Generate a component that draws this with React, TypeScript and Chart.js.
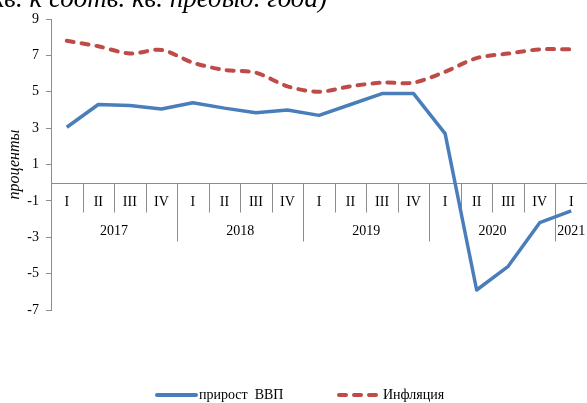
import React, { useEffect, useRef } from "react";
import { Chart, registerables } from "chart.js";

Chart.register(...registerables);

const quarterLabels = ["I", "II", "III", "IV", "I", "II", "III", "IV", "I", "II", "III", "IV", "I", "II", "III", "IV", "I"];
const yearLabels = ["2017", "2018", "2019", "2020", "2021"];
const quartersPerYear = [4, 4, 4, 4, 1];
const gdpGrowth = [3.05, 4.3, 4.25, 4.05, 4.4, 4.1, 3.85, 4.0, 3.7, 4.3, 4.9, 4.9, 2.7, -5.9, -4.6, -2.2, -1.55];
const inflation = [7.8, 7.5, 7.1, 7.3, 6.6, 6.2, 6.05, 5.3, 5.0, 5.3, 5.5, 5.5, 6.1, 6.85, 7.1, 7.33, 7.33];
const yMin = -7;
const yMax = 9;
const yStep = 2;
const seriesNames = ["прирост  ВВП", "Инфляция"];
const titleText = "кв. к соотв. кв. предыд. года)";
const yTitle = "проценты";

const FONT = '"Liberation Serif", "Times New Roman", serif';
const BLUE = "#4A7EBB";
const RED = "#BE4B48";
const GRAY = "#8C8C8C";

const customPlugin = {
  id: "customDecor",
  beforeDatasetsDraw(chart: any) {
    const { ctx, chartArea, scales } = chart;
    const y = scales.y;
    const left = chartArea.left;
    const right = chartArea.right;
    const n = quarterLabels.length;
    const w = (right - left) / n;
    const y0 = Math.round(y.getPixelForValue(0)) + 0.5;
    ctx.save();
    ctx.strokeStyle = GRAY;
    ctx.lineWidth = 1;
    ctx.beginPath();
    ctx.moveTo(left, y0);
    ctx.lineTo(right, y0);
    ctx.stroke();
    const yearBounds = new Set<number>();
    let acc = 0;
    quartersPerYear.forEach((c) => {
      acc += c;
      yearBounds.add(acc);
    });
    for (let i = 1; i < n; i++) {
      const xb = Math.round(left + i * w) + 0.5;
      const len = yearBounds.has(i) ? 58 : 29;
      ctx.beginPath();
      ctx.moveTo(xb, y0);
      ctx.lineTo(xb, y0 + len);
      ctx.stroke();
    }
    ctx.fillStyle = "#000";
    ctx.font = `14px ${FONT}`;
    ctx.textAlign = "center";
    ctx.textBaseline = "middle";
    quarterLabels.forEach((q, i) => {
      ctx.fillText(q, left + (i + 0.5) * w, y0 + 19);
    });
    let start = 0;
    yearLabels.forEach((yl, k) => {
      const c = quartersPerYear[k];
      ctx.fillText(yl, left + (start + c / 2) * w, y0 + 48);
      start += c;
    });
    ctx.restore();
  },
  afterDraw(chart: any) {
    const { ctx, chartArea } = chart;
    ctx.save();
    // title (cut off at top)
    ctx.fillStyle = "#000";
    ctx.font = `italic 27px ${FONT}`;
    ctx.textAlign = "right";
    ctx.textBaseline = "alphabetic";
    ctx.fillText(titleText, 327, 7);
    // y title
    ctx.save();
    ctx.translate(15, (chartArea.top + chartArea.bottom) / 2);
    ctx.rotate(-Math.PI / 2);
    ctx.font = `italic 16px ${FONT}`;
    ctx.textAlign = "center";
    ctx.textBaseline = "middle";
    ctx.fillText(yTitle, 0, 0);
    ctx.restore();
    // legend
    const ly = 395;
    ctx.lineWidth = 4;
    ctx.strokeStyle = BLUE;
    ctx.lineCap = "round";
    ctx.beginPath();
    ctx.moveTo(157, ly);
    ctx.lineTo(196, ly);
    ctx.stroke();
    ctx.strokeStyle = RED;
    ctx.setLineDash([7, 8]);
    ctx.beginPath();
    ctx.moveTo(339, ly);
    ctx.lineTo(376, ly);
    ctx.stroke();
    ctx.setLineDash([]);
    ctx.font = `14px ${FONT}`;
    ctx.textAlign = "left";
    ctx.textBaseline = "middle";
    ctx.fillStyle = "#000";
    ctx.fillText(seriesNames[0], 199, ly);
    ctx.fillText(seriesNames[1], 383, ly);
    ctx.restore();
  },
};

export default function App() {
  const ref = useRef<HTMLCanvasElement | null>(null);
  useEffect(() => {
    if (!ref.current) return;
    const chart = new Chart(ref.current, {
      type: "line",
      data: {
        labels: quarterLabels.map((q, i) => `${q}-${i}`),
        datasets: [
          {
            label: seriesNames[0],
            data: gdpGrowth,
            borderColor: BLUE,
            borderWidth: 3.5,
            pointRadius: 0,
            tension: 0,
            borderJoinStyle: "round",
          },
          {
            label: seriesNames[1],
            data: inflation,
            borderColor: RED,
            borderWidth: 4,
            borderDash: [7, 8],
            borderCapStyle: "round",
            pointRadius: 0,
            tension: 0.3,
          },
        ],
      },
      options: {
        animation: false,
        responsive: false,
        devicePixelRatio: 1,
        layout: { padding: { top: 19, bottom: 93, left: 0, right: 0 } },
        plugins: { legend: { display: false }, tooltip: { enabled: false }, title: { display: false } },
        scales: {
          x: { type: "category", display: false, offset: true },
          y: {
            min: yMin,
            max: yMax,
            afterFit(scale: any) {
              scale.width = 51;
            },
            ticks: {
              stepSize: yStep,
              color: "#000",
              font: { family: FONT, size: 14 },
              padding: 7,
            },
            grid: {
              display: true,
              drawOnChartArea: false,
              drawTicks: true,
              tickLength: 5,
              color: GRAY,
            },
            border: { display: true, color: GRAY, width: 1 },
          },
        },
      },
      plugins: [customPlugin],
    });
    return () => chart.destroy();
  }, []);
  return (
    <div style={{ position: "absolute", left: 0, top: 0, width: 587, height: 403, background: "#fff" }}>
      <canvas ref={ref} width={587} height={403} style={{ display: "block" }} />
    </div>
  );
}
